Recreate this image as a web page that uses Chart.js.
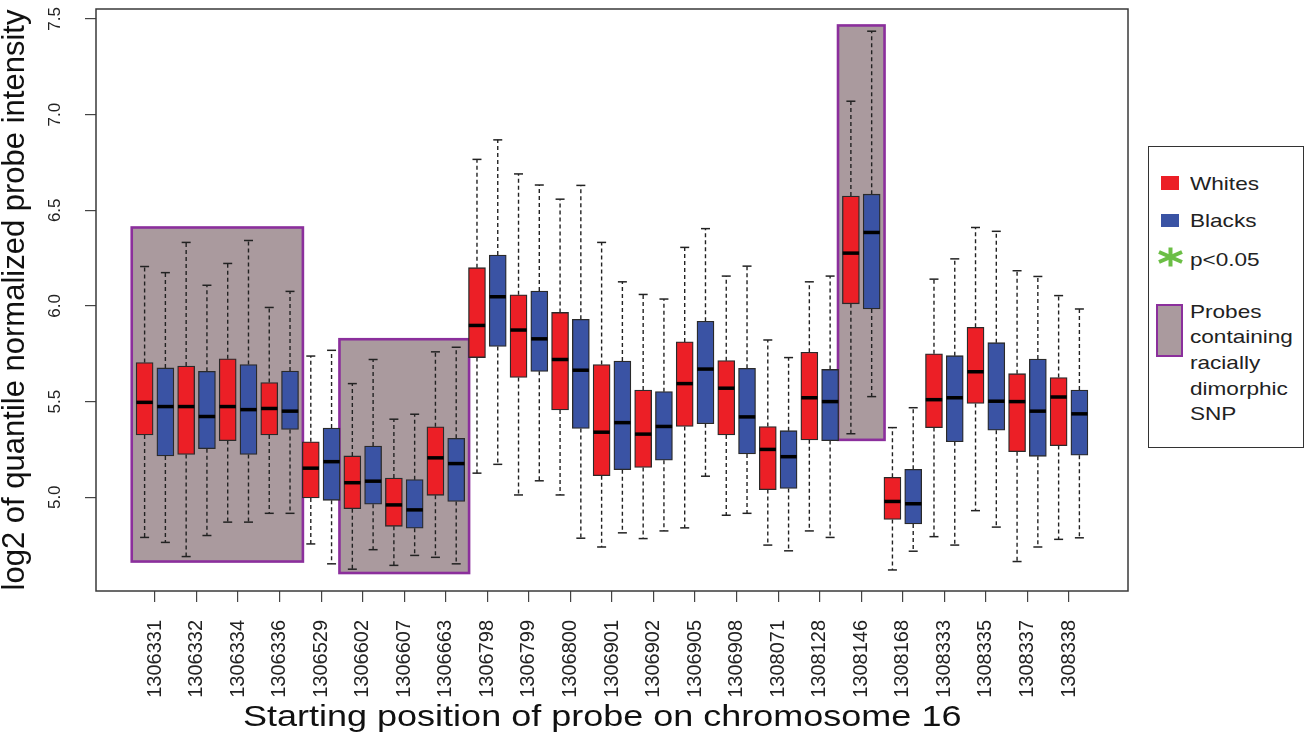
<!DOCTYPE html>
<html>
<head>
<meta charset="utf-8">
<script src="https://cdn.jsdelivr.net/npm/chart.js@4.4.1/dist/chart.umd.min.js"></script>
<style>
html,body{margin:0;padding:0;background:#fff;}
#wrap{position:relative;width:1310px;height:740px;overflow:hidden;font-family:"Liberation Sans",Arial,sans-serif;color:#1a1a1a;}
#c{position:absolute;left:0;top:0;}
#xtitle{position:absolute;left:243px;top:701px;font-size:30px;line-height:30px;white-space:nowrap;transform:scaleX(1.2);transform-origin:0 0;color:#111;}
#legend{position:absolute;left:1148px;top:146px;width:156px;height:302px;box-sizing:border-box;border:1.5px solid #333;background:#fff;}
.lt{position:absolute;left:41px;font-size:18.5px;line-height:20px;white-space:nowrap;transform:scaleX(1.22);transform-origin:0 0;color:#222;}
.sq{position:absolute;left:11.5px;width:18px;height:13.5px;}
#snpkey{position:absolute;left:7px;top:156.5px;width:27px;height:53px;box-sizing:border-box;border:2.5px solid #8B2F9C;background:#AA9A9E;}
#star{position:absolute;left:8px;top:99px;}
</style>
</head>
<body>
<div id="wrap">
  <canvas id="c" width="1310" height="740"></canvas>
  <div id="xtitle">Starting position of probe on chromosome 16</div>
  <div id="legend">
    <div class="sq" style="top:29px;background:#EC1F26;"></div>
    <div class="lt" style="top:26.7px;">Whites</div>
    <div class="sq" style="top:66.8px;background:#3A53A4;"></div>
    <div class="lt" style="top:63.5px;">Blacks</div>
    <svg id="star" width="27" height="22" viewBox="-13.5 -11 27 22">
      <g stroke="#6BBE45" stroke-width="4" stroke-linecap="butt">
        <line x1="0" y1="-9.5" x2="0" y2="9.5"/>
        <line x1="-11.5" y1="-5" x2="11.5" y2="5"/>
        <line x1="-11.5" y1="5" x2="11.5" y2="-5"/>
      </g>
    </svg>
    <div class="lt" style="top:102.5px;">p&lt;0.05</div>
    <div id="snpkey"></div>
    <div class="lt" style="top:151.5px;line-height:25.7px;">Probes<br>containing<br>racially<br>dimorphic<br>SNP</div>
  </div>
</div>
<script>
// ---- data ----
const probes = ['1306331','1306332','1306334','1306336','1306529','1306602','1306607','1306663',
  '1306798','1306799','1306800','1306901','1306902','1306905','1306908','1308071','1308128',
  '1308146','1308168','1308333','1308335','1308337','1308338'];

const whitesUpper  = [6.206,6.332,6.222,5.992,5.738,5.594,5.408,5.760,6.766,6.690,6.558,6.332,6.060,6.306,6.156,5.822,6.126,7.070,5.364,6.140,6.410,6.184,6.054];
const whitesQ3     = [5.704,5.686,5.724,5.600,5.290,5.216,5.100,5.368,6.200,6.058,5.966,5.694,5.560,5.812,5.714,5.370,5.758,6.574,5.104,5.750,5.888,5.646,5.626];
const whitesMedian = [5.496,5.474,5.474,5.464,5.152,5.076,4.960,5.206,5.898,5.874,5.720,5.340,5.330,5.594,5.570,5.250,5.520,6.276,4.978,5.510,5.656,5.500,5.524];
const whitesQ1     = [5.326,5.224,5.296,5.326,4.996,4.940,4.848,5.010,5.730,5.626,5.456,5.113,5.156,5.370,5.326,5.040,5.300,6.011,4.884,5.364,5.490,5.238,5.270];
const whitesLower  = [4.790,4.690,4.870,4.916,4.756,4.624,4.644,4.686,5.126,5.012,5.012,4.740,4.784,4.840,4.906,4.750,4.824,5.332,4.620,4.794,4.930,4.664,4.780];

const blacksUpper  = [6.174,6.108,6.342,6.076,5.768,5.720,5.434,5.784,6.868,6.632,6.630,6.126,6.036,6.404,6.208,5.730,6.156,7.436,5.468,6.246,6.390,6.154,5.984];
const blacksQ3     = [5.676,5.658,5.694,5.660,5.362,5.268,5.092,5.308,6.266,6.078,5.930,5.712,5.552,5.920,5.674,5.348,5.668,6.584,5.146,5.740,5.808,5.722,5.560];
const blacksMedian = [5.474,5.422,5.458,5.450,5.186,5.084,4.934,5.176,6.048,5.828,5.664,5.390,5.370,5.670,5.420,5.212,5.500,6.384,4.966,5.520,5.502,5.450,5.436];
const blacksQ1     = [5.216,5.254,5.224,5.354,4.984,4.964,4.838,4.978,5.788,5.658,5.360,5.144,5.194,5.384,5.226,5.046,5.296,5.984,4.860,5.290,5.350,5.214,5.220];
const blacksLower  = [4.764,4.800,4.870,4.916,4.652,4.726,4.696,4.652,5.172,5.086,4.786,4.814,4.824,5.110,4.916,4.720,4.790,5.526,4.718,4.750,4.844,4.740,4.788];

// probes containing a racially dimorphic SNP (first / last probe index, value range of shading)
const snpStart = [0, 5, 17];
const snpEnd   = [3, 7, 17];
const snpLow   = [4.664, 4.604, 5.300];
const snpHigh  = [6.410, 5.826, 7.466];

const yTicks = [5.0, 5.5, 6.0, 6.5, 7.0, 7.5];

// ---- styles ----
const RED = '#EC1F26', BLUE = '#3A53A4', EDGE = '#2a2a2a';
const FONT = 'Liberation Sans';

const pos = (i, g) => 2 * i + 1 + g;   // g = 0 whites, 1 blacks

function boxData(q1, q3, g) {
  return probes.map((p, i) => ({x: pos(i, g), y: [q1[i], q3[i]]}));
}
function whiskerData(lo, q1, q3, hi, g) {
  const d = [];
  probes.forEach((p, i) => {
    const x = pos(i, g);
    d.push({x, y: q3[i]}, {x, y: hi[i]}, {x, y: null}, {x, y: q1[i]}, {x, y: lo[i]}, {x, y: null});
  });
  return d;
}
function capData(lo, hi, g) {
  const d = [];
  probes.forEach((p, i) => { d.push({x: pos(i, g), y: hi[i]}, {x: pos(i, g), y: lo[i]}); });
  return d;
}
function medData(med, g) {
  return probes.map((p, i) => ({x: pos(i, g), y: med[i]}));
}

const whiskerStyle = {type: 'line', borderColor: '#222', borderWidth: 1.4, borderDash: [4, 3],
  pointRadius: 0, pointHoverRadius: 0, spanGaps: false, fill: false, tension: 0, order: 4};
const capStyle = {type: 'scatter', pointStyle: 'line', pointRadius: 4.5, pointHoverRadius: 4.5,
  borderColor: '#222', borderWidth: 1.5, order: 1};
const medStyle = {type: 'scatter', pointStyle: 'line', pointRadius: 8.2, pointHoverRadius: 8.2,
  borderColor: '#000', borderWidth: 3.5, order: 0};
const boxStyle = {type: 'bar', borderColor: EDGE, borderWidth: 1.3, borderSkipped: false,
  barThickness: 17, grouped: false, order: 2};

const snpPlugin = {
  id: 'snp',
  beforeDatasetsDraw(chart) {
    const {ctx, chartArea, scales: {x, y}} = chart;
    ctx.save();
    ctx.beginPath();
    ctx.rect(chartArea.left, chartArea.top, chartArea.right - chartArea.left, chartArea.bottom - chartArea.top);
    ctx.clip();
    for (let k = 0; k < snpStart.length; k++) {
      const x0 = x.getPixelForValue(pos(snpStart[k], 0) - 0.62);
      const x1 = x.getPixelForValue(pos(snpEnd[k], 1) + 0.62);
      const y0 = y.getPixelForValue(snpHigh[k]);
      const y1 = y.getPixelForValue(snpLow[k]);
      ctx.fillStyle = '#AA9A9E';
      ctx.fillRect(x0, y0, x1 - x0, y1 - y0);
      ctx.strokeStyle = '#8B2F9C';
      ctx.lineWidth = 2.6;
      ctx.strokeRect(x0, y0, x1 - x0, y1 - y0);
    }
    ctx.restore();
  }
};
const framePlugin = {
  id: 'frame',
  afterDraw(chart) {
    const {ctx, chartArea: a} = chart;
    ctx.save();
    ctx.strokeStyle = '#3a3a3a';
    ctx.lineWidth = 1.5;
    ctx.strokeRect(a.left, a.top, a.right - a.left, a.bottom - a.top);
    ctx.restore();
  }
};

function noPad(s) { s.paddingTop = 0; s.paddingBottom = 0; s.paddingLeft = 0; s.paddingRight = 0; }

new Chart(document.getElementById('c'), {
  type: 'bar',
  data: {
    datasets: [
      Object.assign({label: 'Whites median', data: medData(whitesMedian, 0)}, medStyle),
      Object.assign({label: 'Blacks median', data: medData(blacksMedian, 1)}, medStyle),
      Object.assign({label: 'Whites caps', data: capData(whitesLower, whitesUpper, 0)}, capStyle),
      Object.assign({label: 'Blacks caps', data: capData(blacksLower, blacksUpper, 1)}, capStyle),
      Object.assign({label: 'Whites', data: boxData(whitesQ1, whitesQ3, 0), backgroundColor: RED}, boxStyle),
      Object.assign({label: 'Blacks', data: boxData(blacksQ1, blacksQ3, 1), backgroundColor: BLUE}, boxStyle),
      Object.assign({label: 'Whites whiskers', data: whiskerData(whitesLower, whitesQ1, whitesQ3, whitesUpper, 0)}, whiskerStyle),
      Object.assign({label: 'Blacks whiskers', data: whiskerData(blacksLower, blacksQ1, blacksQ3, blacksUpper, 1)}, whiskerStyle)
    ]
  },
  options: {
    responsive: false,
    animation: false,
    events: [],
    layout: {autoPadding: false, padding: {top: 9, right: 182, bottom: 0, left: 0}},
    plugins: {legend: {display: false}, tooltip: {enabled: false}},
    scales: {
      x: {
        type: 'linear', min: -1.34, max: 48.34, offset: false,
        afterBuildTicks: s => { s.ticks = probes.map((p, i) => ({value: 2 * i + 1.5})); },
        afterFit: s => { s.height = 149; noPad(s); },
        border: {display: false},
        grid: {offset: false, drawOnChartArea: false, drawTicks: true, tickLength: 11, color: '#444', lineWidth: 1.2},
        ticks: {autoSkip: false, minRotation: 90, maxRotation: 90, padding: 18, color: '#222',
          font: {family: FONT, size: 20}, callback: (v, i) => probes[i]}
      },
      y: {
        type: 'linear', min: 4.51, max: 7.552,
        afterBuildTicks: s => { s.ticks = yTicks.map(v => ({value: v})); },
        afterFit: s => { s.width = 96; noPad(s); },
        border: {display: false},
        grid: {drawOnChartArea: false, drawTicks: true, tickLength: 11, color: '#444', lineWidth: 1.2},
        ticks: {minRotation: 90, maxRotation: 90, crossAlign: 'center', padding: 18, color: '#222',
          font: {family: FONT, size: 17}, callback: v => Number(v).toFixed(1)},
        title: {display: true, text: 'log2 of quantile normalized probe intensity', color: '#111',
          font: {family: FONT, size: 31, lineHeight: 1}, padding: 0}
      }
    }
  },
  plugins: [snpPlugin, framePlugin]
});
</script>
</body>
</html>
